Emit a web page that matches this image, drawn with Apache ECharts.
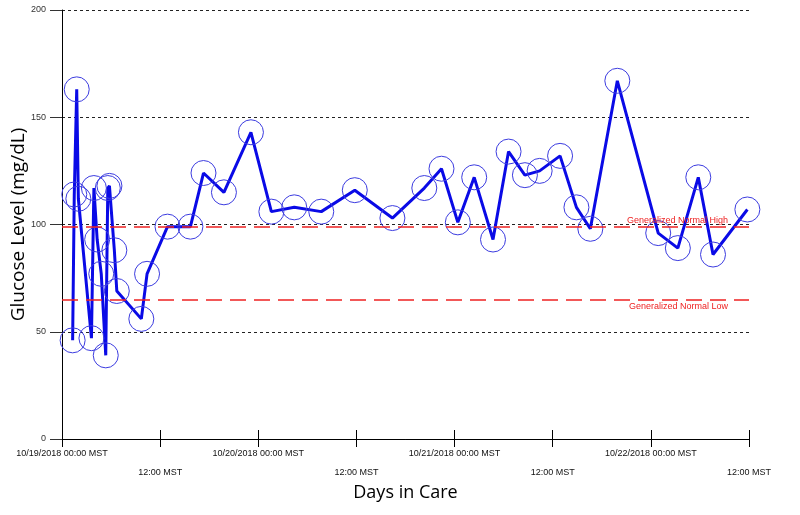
<!DOCTYPE html>
<html>
<head>
<meta charset="utf-8">
<script src="https://cdn.jsdelivr.net/npm/echarts@6/dist/echarts.min.js"></script>
<style>
html,body{margin:0;padding:0;background:#fff;}
#chart{width:800px;height:515px;}
</style>
</head>
<body>
<div id="chart"></div>
<script>
// Hours since 10/19/2018 00:00 MST for each reading
var readingHours = [1.3, 1.5, 1.8, 2.0, 3.6, 3.9, 4.3, 4.8, 5.35, 5.6, 5.8, 6.4, 6.7,
  9.7, 10.4, 12.9, 15.7, 17.3, 19.8, 23.1, 25.6, 28.4, 31.7, 35.8, 40.4, 44.3, 46.4,
  48.4, 50.4, 52.7, 54.6, 56.6, 58.4, 60.9, 62.9, 64.6, 67.9, 72.9, 75.3, 77.8, 79.6, 83.8];
// Glucose level (mg/dL)
var glucoseLevels = [46, 114, 163, 112, 47, 117, 93, 77, 39, 117, 118, 88, 69,
  56, 77, 99, 99, 124, 115, 143, 106, 108, 106, 116, 103, 117, 126,
  101, 122, 93, 134, 123, 125, 132, 108, 98, 167, 96, 89, 122, 86, 107];
// X tick labels every 12 hours
var xTickLabels = ['10/19/2018 00:00 MST', '12:00 MST', '10/20/2018 00:00 MST', '12:00 MST',
  '10/21/2018 00:00 MST', '12:00 MST', '10/22/2018 00:00 MST', '12:00 MST'];
var normalHigh = 99;
var normalLow = 65;
var normalHighLabel = 'Generalized Normal High';
var normalLowLabel = 'Generalized Normal Low';

var seriesData = readingHours.map(function (h, i) { return [h, glucoseLevels[i]]; });
var chart = echarts.init(document.getElementById('chart'), null, {renderer: 'canvas'});
var labelFont = '"Liberation Sans", Arial, sans-serif';

chart.setOption({
  animation: false,
  backgroundColor: '#fff',
  grid: {left: 62, right: 51, top: 10, bottom: 76, containLabel: false, outerBoundsMode: 'none'},
  xAxis: [{
    type: 'value', min: 0, max: 84, interval: 12,
    name: 'Days in Care', nameLocation: 'middle', nameGap: 45, nameMoveOverlap: false,
    nameTextStyle: {fontFamily: '"Open Sans", sans-serif', fontSize: 18, color: '#000'},
    axisLine: {show: true, lineStyle: {color: '#000', width: 1}},
    axisTick: {show: true, length: 8, lineStyle: {color: '#000'}},
    splitLine: {show: false},
    axisLabel: {
      show: true, interval: 0, margin: 5, lineHeight: 19,
      fontFamily: labelFont, fontSize: 9, color: '#111',
      showMinLabel: true, showMaxLabel: true, hideOverlap: false,
      formatter: function (v) {
        var idx = Math.round(v / 12);
        var t = xTickLabels[idx] || '';
        return idx % 2 === 1 ? '\n' + t : t;
      }
    }
  }, {
    type: 'value', min: 0, max: 84, interval: 12, position: 'bottom',
    axisLine: {show: false},
    axisTick: {show: true, inside: true, length: 9, lineStyle: {color: '#000'}},
    axisLabel: {show: false},
    splitLine: {show: false}
  }],
  yAxis: {
    type: 'value', min: 0, max: 200, interval: 50,
    name: 'Glucose Level (mg/dL)', nameLocation: 'middle', nameGap: 34, nameMoveOverlap: false,
    nameTextStyle: {fontFamily: '"Open Sans", sans-serif', fontSize: 19, color: '#000'},
    axisLine: {show: true, lineStyle: {color: '#000', width: 1}},
    axisTick: {show: true, length: 12, lineStyle: {color: '#333'}},
    axisLabel: {margin: 16, fontFamily: labelFont, fontSize: 9, color: '#333'},
    splitLine: {show: true, lineStyle: {color: '#222', type: [3, 3], width: 1}}
  },
  series: [{
    type: 'line',
    data: seriesData,
    xAxisIndex: 0,
    symbol: 'circle',
    symbolSize: 25,
    showAllSymbol: true,
    lineStyle: {color: '#0a0ae6', width: 3},
    itemStyle: {color: 'rgba(0,0,0,0)', borderColor: '#3c3ce0', borderWidth: 1},
    emphasis: {disabled: true},
    markLine: {
      silent: true,
      symbol: 'none',
      lineStyle: {color: '#ee2222', type: [16, 8], width: 1.5},
      data: [
        {yAxis: normalHigh, label: {show: true, formatter: normalHighLabel, position: 'insideEndTop', distance: [21, 2], color: '#ee2222', fontFamily: labelFont, fontSize: 9}},
        {yAxis: normalLow, label: {show: true, formatter: normalLowLabel, position: 'insideEndBottom', distance: [21, 2], color: '#ee2222', fontFamily: labelFont, fontSize: 9}}
      ]
    }
  }]
});
</script>
</body>
</html>
